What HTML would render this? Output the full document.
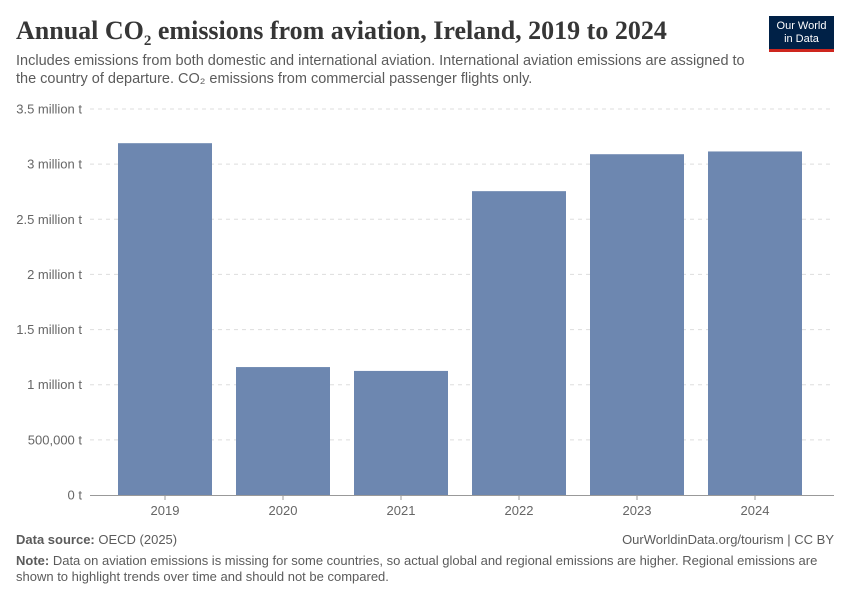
<!DOCTYPE html>
<html><head><meta charset="utf-8"><style>
body{margin:0;background:#fff;font-family:"Liberation Sans",sans-serif;}
#wrap{position:relative;width:850px;height:600px;overflow:hidden;}
.t{position:absolute;margin:0;}
</style></head><body>
<div id="wrap">
<h1 class="t" style="left:16px;top:16px;font-family:'Liberation Serif',serif;font-size:26px;font-weight:bold;color:#363636;letter-spacing:0px">Annual CO<sub style="font-size:15px">2</sub> emissions from aviation, Ireland, 2019 to 2024</h1>
<p class="t" style="left:16px;top:52px;width:735px;font-size:14.5px;line-height:18px;color:#5b5b5b">Includes emissions from both domestic and international aviation. International aviation emissions are assigned to the country of departure. CO₂ emissions from commercial passenger flights only.</p>
<div class="t" style="left:769px;top:16px;width:65px;height:36px;background:#002147;color:#fff;font-size:11px;line-height:13px;text-align:center;padding-top:4px;box-sizing:border-box;border-bottom:3px solid #ce261e">Our World<br>in Data</div>
<svg id="chart" width="850" height="600" style="position:absolute;left:0;top:0"></svg>
<p class="t" style="left:16px;top:532px;font-size:13px;color:#5b5b5b"><b>Data source:</b> OECD (2025)</p>
<p class="t" style="right:16px;top:532px;font-size:13px;color:#5b5b5b">OurWorldinData.org/tourism | CC BY</p>
<p class="t" style="left:16px;top:553px;width:805px;font-size:13px;line-height:16px;color:#5b5b5b"><b>Note:</b> Data on aviation emissions is missing for some countries, so actual global and regional emissions are higher. Regional emissions are shown to highlight trends over time and should not be compared.</p>
</div>
<script>
const categories=["2019","2020","2021","2022","2023","2024"];
const values=[3.19,1.16,1.125,2.755,3.09,3.115];
const tickValues=[0,0.5,1,1.5,2,2.5,3,3.5];
const tickLabels=["0 t","500,000 t","1 million t","1.5 million t","2 million t","2.5 million t","3 million t","3.5 million t"];
const svg=document.getElementById('chart');const NS='http://www.w3.org/2000/svg';
const y=v=>495-v*(386/3.5);
const x=i=>118+118*i;const bw=94;
function mk(t,a){const e=document.createElementNS(NS,t);for(const k in a)e.setAttribute(k,a[k]);svg.appendChild(e);return e;}
tickValues.forEach((v,i)=>{
 if(v>0){const g=mk('line',{x1:90,x2:834,y1:y(v),y2:y(v),stroke:'#ddd','stroke-dasharray':'4,4'});
 
 }
 const t=mk('text',{x:82,y:y(v)+4.5,'text-anchor':'end','font-size':13,fill:'#666','font-family':'Liberation Sans,sans-serif'});t.textContent=tickLabels[i];
 
 
});
values.forEach((v,i)=>{
 const r=mk('rect',{x:x(i),y:y(v),width:bw,height:y(0)-y(v),fill:'#6d87b0'});
 
 
 const t=mk('text',{x:x(i)+bw/2,y:515,'text-anchor':'middle','font-size':13,fill:'#666','font-family':'Liberation Sans,sans-serif'});t.textContent=categories[i];
 
 
 const tk=mk('line',{x1:x(i)+bw/2,x2:x(i)+bw/2,y1:495,y2:500,stroke:'#999'});
 
 
});
const ax=mk('line',{x1:90,x2:834,y1:495.5,y2:495.5,stroke:'#999'});


</script>
</body></html>
